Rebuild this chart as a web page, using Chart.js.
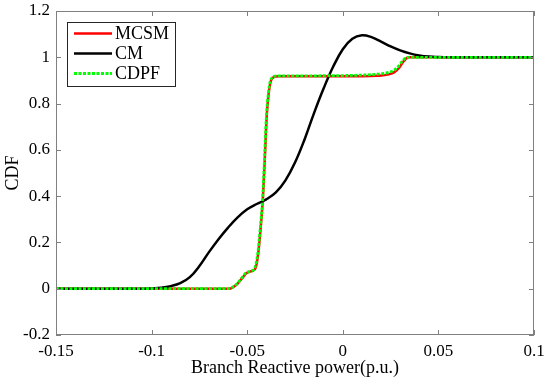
<!DOCTYPE html>
<html>
<head>
<meta charset="utf-8">
<script src="https://cdn.jsdelivr.net/npm/chart.js@4.4.1/dist/chart.umd.min.js"></script>
<style>
  html, body { margin: 0; padding: 0; background: #fff; }
  #wrap { width: 550px; height: 382px; position: relative; }
</style>
</head>
<body>
<div id="wrap"><canvas id="c" width="550" height="382"></canvas></div>
<script>
// ---- data ----
const seriesLabels = ["MCSM", "CM", "CDPF"];

const mcsmX = [-0.15, -0.0595, -0.0575, -0.055, -0.0525, -0.0505, -0.0485, -0.047, -0.0455, -0.0442, -0.043, -0.0418, -0.0408, -0.0398, -0.0388, -0.0378, -0.0368, -0.0352, -0.033, -0.02, 0, 0.01, 0.018, 0.024, 0.027, 0.0295, 0.0315, 0.033, 0.0345, 0.0365, 0.1];
const mcsmY = [0, 0, 0.006, 0.022, 0.047, 0.067, 0.074, 0.078, 0.092, 0.155, 0.26, 0.39, 0.56, 0.745, 0.842, 0.893, 0.91, 0.917, 0.918, 0.918, 0.918, 0.918, 0.92, 0.926, 0.936, 0.955, 0.98, 0.994, 1.0, 1.0, 1.0];

const cmX = [-0.15, -0.125, -0.105, -0.1, -0.095, -0.09, -0.085, -0.08, -0.075, -0.07, -0.065, -0.06, -0.055, -0.05, -0.045, -0.04, -0.035, -0.03, -0.025, -0.02, -0.015, -0.01, -0.005, 0, 0.005, 0.01, 0.015, 0.02, 0.025, 0.03, 0.035, 0.04, 0.045, 0.05, 0.055, 0.075, 0.1];
const cmY = [0, 0, 0, 0.001, 0.004, 0.011, 0.024, 0.05, 0.098, 0.158, 0.214, 0.264, 0.308, 0.343, 0.366, 0.386, 0.416, 0.468, 0.545, 0.645, 0.76, 0.866, 0.96, 1.035, 1.08, 1.095, 1.087, 1.068, 1.047, 1.03, 1.017, 1.008, 1.003, 1.001, 1.0, 1.0, 1.0];

const cdpfX = [-0.15, -0.06, -0.058, -0.0555, -0.053, -0.051, -0.049, -0.0475, -0.046, -0.0445, -0.0433, -0.042, -0.041, -0.04, -0.039, -0.038, -0.037, -0.0355, -0.033, -0.02, 0, 0.01, 0.018, 0.024, 0.027, 0.029, 0.031, 0.0325, 0.034, 0.036, 0.1];
const cdpfY = [0, 0, 0.005, 0.02, 0.045, 0.066, 0.074, 0.078, 0.09, 0.15, 0.25, 0.38, 0.55, 0.74, 0.84, 0.895, 0.912, 0.919, 0.92, 0.92, 0.921, 0.923, 0.927, 0.935, 0.945, 0.96, 0.982, 0.995, 1.0, 1.0, 1.0];

const xTickValues = [-0.15, -0.1, -0.05, 0, 0.05, 0.1];
const yTickValues = [-0.2, 0, 0.2, 0.4, 0.6, 0.8, 1, 1.2];
const xTitle = "Branch Reactive power(p.u.)";
const yTitle = "CDF";

const pts = (xs, ys) => xs.map((x, i) => ({ x: x, y: ys[i] }));

const FONT = "'Liberation Serif', 'Times New Roman', serif";
const AXIS_COLOR = '#808080';

const framePlugin = {
  id: 'frame',
  afterDatasetsDraw(chart) {
    const { ctx, chartArea: a, scales } = chart;
    ctx.save();
    ctx.strokeStyle = AXIS_COLOR;
    ctx.lineWidth = 1;
    ctx.strokeRect(a.left + 0.5, a.top + 0.5, a.right - a.left - 1, a.bottom - a.top - 1);
    const tl = 5;
    ctx.beginPath();
    xTickValues.forEach(v => {
      const px = Math.round(scales.x.getPixelForValue(v)) + 0.5;
      ctx.moveTo(px, a.bottom); ctx.lineTo(px, a.bottom - tl);
      ctx.moveTo(px, a.top); ctx.lineTo(px, a.top + tl);
    });
    yTickValues.forEach(v => {
      const py = Math.round(scales.y.getPixelForValue(v)) + 0.5;
      ctx.moveTo(a.left, py); ctx.lineTo(a.left + tl, py);
      ctx.moveTo(a.right, py); ctx.lineTo(a.right - tl, py);
    });
    ctx.stroke();

    // legend box
    const bx = 67.5, by = 22.5, bw = 108, bh = 64;
    ctx.fillStyle = '#fff';
    ctx.fillRect(bx, by, bw, bh);
    ctx.strokeStyle = '#262626';
    ctx.strokeRect(bx, by, bw, bh);
    const rows = [33.5, 53.5, 73.5];
    chart.data.datasets.forEach((ds, i) => {
      const y = rows[i];
      ctx.beginPath();
      ctx.strokeStyle = ds.borderColor;
      ctx.lineWidth = ds.borderWidth;
      ctx.setLineDash(ds.borderDash || []);
      ctx.moveTo(74, y); ctx.lineTo(112, y);
      ctx.stroke();
      ctx.setLineDash([]);
      ctx.fillStyle = '#000';
      ctx.font = "18px " + FONT;
      ctx.textBaseline = 'middle';
      ctx.textAlign = 'left';
      ctx.fillText(ds.label, 115, y + 1);
    });
    ctx.restore();
  }
};

new Chart(document.getElementById('c'), {
  type: 'line',
  data: {
    datasets: [
      { label: seriesLabels[0], data: pts(mcsmX, mcsmY), borderColor: '#ff0000', borderWidth: 2.5, order: 2,
        cubicInterpolationMode: 'monotone' },
      { label: seriesLabels[1], data: pts(cmX, cmY), borderColor: '#000000', borderWidth: 2.5, order: 1,
        cubicInterpolationMode: 'default', tension: 0.4 },
      { label: seriesLabels[2], data: pts(cdpfX, cdpfY), borderColor: '#00ff00', borderWidth: 2.8, borderDash: [3, 1.5], order: 0,
        cubicInterpolationMode: 'monotone' }
    ]
  },
  options: {
    responsive: false,
    animation: false,
    devicePixelRatio: 1,
    layout: { padding: { top: 11, right: 16, left: 0, bottom: 0 } },
    elements: {
      point: { radius: 0, hoverRadius: 0 },
      line: { fill: false, borderCapStyle: 'butt' }
    },
    plugins: { legend: { display: false }, tooltip: { enabled: false } },
    scales: {
      x: {
        type: 'linear', min: -0.15, max: 0.1,
        afterBuildTicks: s => { s.ticks = xTickValues.map(v => ({ value: v })); },
        afterFit: s => { s.height = 47; },
        grid: { display: false, drawTicks: false },
        border: { display: false },
        ticks: { padding: 3, color: '#000', font: { family: FONT, size: 17, lineHeight: 1.65 }, maxRotation: 0, autoSkip: false,
                 callback: v => String(+v.toFixed(2)) },
        title: { display: true, text: xTitle, color: '#000', font: { family: FONT, size: 18 }, padding: { top: 0, bottom: 3 } }
      },
      y: {
        type: 'linear', min: -0.2, max: 1.2,
        afterBuildTicks: s => { s.ticks = yTickValues.map(v => ({ value: v })); },
        afterFit: s => { s.width = 56; },
        grid: { display: false, drawTicks: false },
        border: { display: false },
        ticks: { padding: 6, color: '#000', font: { family: FONT, size: 17, lineHeight: 0.5 }, autoSkip: false,
                 callback: v => String(+v.toFixed(1)) },
        title: { display: true, text: yTitle, color: '#000', font: { family: FONT, size: 18 }, padding: { top: 2, bottom: 0 } }
      }
    }
  },
  plugins: [framePlugin]
});
</script>
</body>
</html>
